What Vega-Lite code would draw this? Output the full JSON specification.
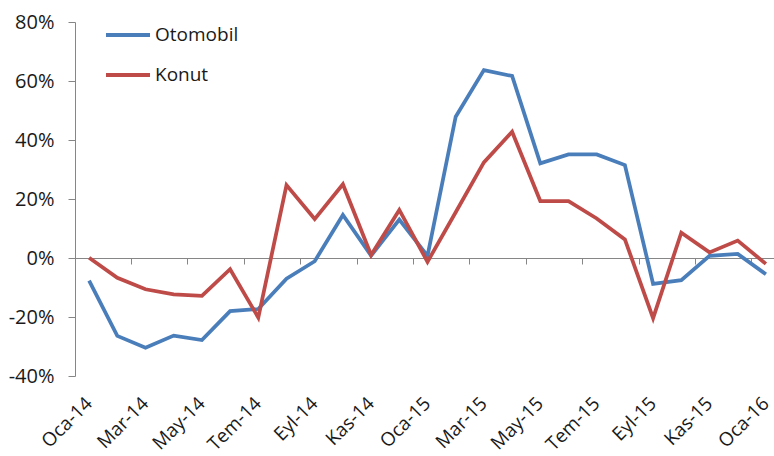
{
  "$schema": "https://vega.github.io/schema/vega-lite/v6.json",
  "autosize": {"type": "none"},
  "padding": {"left": 75, "top": 22, "right": 0, "bottom": 80},
  "width": 699,
  "height": 354,
  "config": {
    "view": {"stroke": null},
    "font": "Open Sans",
    "axis": {
      "labelFont": "Open Sans",
      "labelFontSize": 20,
      "labelColor": "#1a1a1a",
      "domainColor": "#868686",
      "tickColor": "#868686",
      "grid": false,
      "title": null
    },
    "legend": {
      "labelFont": "Open Sans",
      "labelFontSize": 19,
      "labelColor": "#1a1a1a"
    }
  },
  "data": {
    "values": [
      {"month": "Oca-14", "series": "Otomobil", "value": -0.077},
      {"month": "Şub-14", "series": "Otomobil", "value": -0.264},
      {"month": "Mar-14", "series": "Otomobil", "value": -0.304},
      {"month": "Nis-14", "series": "Otomobil", "value": -0.263},
      {"month": "May-14", "series": "Otomobil", "value": -0.278},
      {"month": "Haz-14", "series": "Otomobil", "value": -0.18},
      {"month": "Tem-14", "series": "Otomobil", "value": -0.173},
      {"month": "Ağu-14", "series": "Otomobil", "value": -0.07},
      {"month": "Eyl-14", "series": "Otomobil", "value": -0.011},
      {"month": "Eki-14", "series": "Otomobil", "value": 0.146},
      {"month": "Kas-14", "series": "Otomobil", "value": 0.008},
      {"month": "Ara-14", "series": "Otomobil", "value": 0.13},
      {"month": "Oca-15", "series": "Otomobil", "value": 0.007},
      {"month": "Şub-15", "series": "Otomobil", "value": 0.479},
      {"month": "Mar-15", "series": "Otomobil", "value": 0.637},
      {"month": "Nis-15", "series": "Otomobil", "value": 0.617},
      {"month": "May-15", "series": "Otomobil", "value": 0.321},
      {"month": "Haz-15", "series": "Otomobil", "value": 0.351},
      {"month": "Tem-15", "series": "Otomobil", "value": 0.351},
      {"month": "Ağu-15", "series": "Otomobil", "value": 0.315},
      {"month": "Eyl-15", "series": "Otomobil", "value": -0.088},
      {"month": "Eki-15", "series": "Otomobil", "value": -0.075},
      {"month": "Kas-15", "series": "Otomobil", "value": 0.007},
      {"month": "Ara-15", "series": "Otomobil", "value": 0.014},
      {"month": "Oca-16", "series": "Otomobil", "value": -0.055},
      {"month": "Oca-14", "series": "Konut", "value": 0.001},
      {"month": "Şub-14", "series": "Konut", "value": -0.067},
      {"month": "Mar-14", "series": "Konut", "value": -0.106},
      {"month": "Nis-14", "series": "Konut", "value": -0.123},
      {"month": "May-14", "series": "Konut", "value": -0.128},
      {"month": "Haz-14", "series": "Konut", "value": -0.038},
      {"month": "Tem-14", "series": "Konut", "value": -0.202},
      {"month": "Ağu-14", "series": "Konut", "value": 0.247},
      {"month": "Eyl-14", "series": "Konut", "value": 0.132},
      {"month": "Eki-14", "series": "Konut", "value": 0.25},
      {"month": "Kas-14", "series": "Konut", "value": 0.01},
      {"month": "Ara-14", "series": "Konut", "value": 0.163},
      {"month": "Oca-15", "series": "Konut", "value": -0.013},
      {"month": "Şub-15", "series": "Konut", "value": 0.155},
      {"month": "Mar-15", "series": "Konut", "value": 0.324},
      {"month": "Nis-15", "series": "Konut", "value": 0.428},
      {"month": "May-15", "series": "Konut", "value": 0.193},
      {"month": "Haz-15", "series": "Konut", "value": 0.193},
      {"month": "Tem-15", "series": "Konut", "value": 0.134},
      {"month": "Ağu-15", "series": "Konut", "value": 0.063},
      {"month": "Eyl-15", "series": "Konut", "value": -0.204},
      {"month": "Eki-15", "series": "Konut", "value": 0.086},
      {"month": "Kas-15", "series": "Konut", "value": 0.019},
      {"month": "Ara-15", "series": "Konut", "value": 0.059},
      {"month": "Oca-16", "series": "Konut", "value": -0.02}
    ]
  },
  "mark": {"type": "line", "strokeWidth": 3.75, "strokeJoin": "miter", "strokeCap": "butt"},
  "encoding": {
    "x": {
      "field": "month",
      "type": "ordinal",
      "sort": null,
      "scale": {"type": "band", "paddingInner": 0, "paddingOuter": 0, "range": [0, 705]},
      "axis": {
        "orient": "bottom",
        "offset": -118,
        "bandPosition": 0,
        "values": ["Oca-14", "Mar-14", "May-14", "Tem-14", "Eyl-14", "Kas-14", "Oca-15", "Mar-15", "May-15", "Tem-15", "Eyl-15", "Kas-15", "Oca-16"],
        "labelAngle": -45,
        "labelAlign": "right",
        "labelBaseline": "middle",
        "labelFontSize": 19,
        "labelOffset": 0,
        "labelPadding": 136,
        "tickSize": 6,
        "labelOverlap": false
      }
    },
    "y": {
      "field": "value",
      "type": "quantitative",
      "scale": {"domain": [-0.4, 0.8], "nice": false, "zero": false},
      "axis": {
        "values": [-0.4, -0.2, 0, 0.2, 0.4, 0.6, 0.8],
        "format": ".0%",
        "labelExpr": "replace(datum.label, '−', '-')",
        "tickSize": 7,
        "labelPadding": 14
      }
    },
    "color": {
      "field": "series",
      "type": "nominal",
      "scale": {"domain": ["Otomobil", "Konut"], "range": ["#4A7EBB", "#BE4B48"]},
      "legend": {
        "title": null,
        "orient": "none",
        "legendX": 29,
        "legendY": -11,
        "symbolType": "stroke",
        "symbolSize": 1936,
        "symbolStrokeWidth": 4,
        "rowPadding": 6,
        "labelOffset": 3,
        "padding": 0
      }
    }
  }
}
